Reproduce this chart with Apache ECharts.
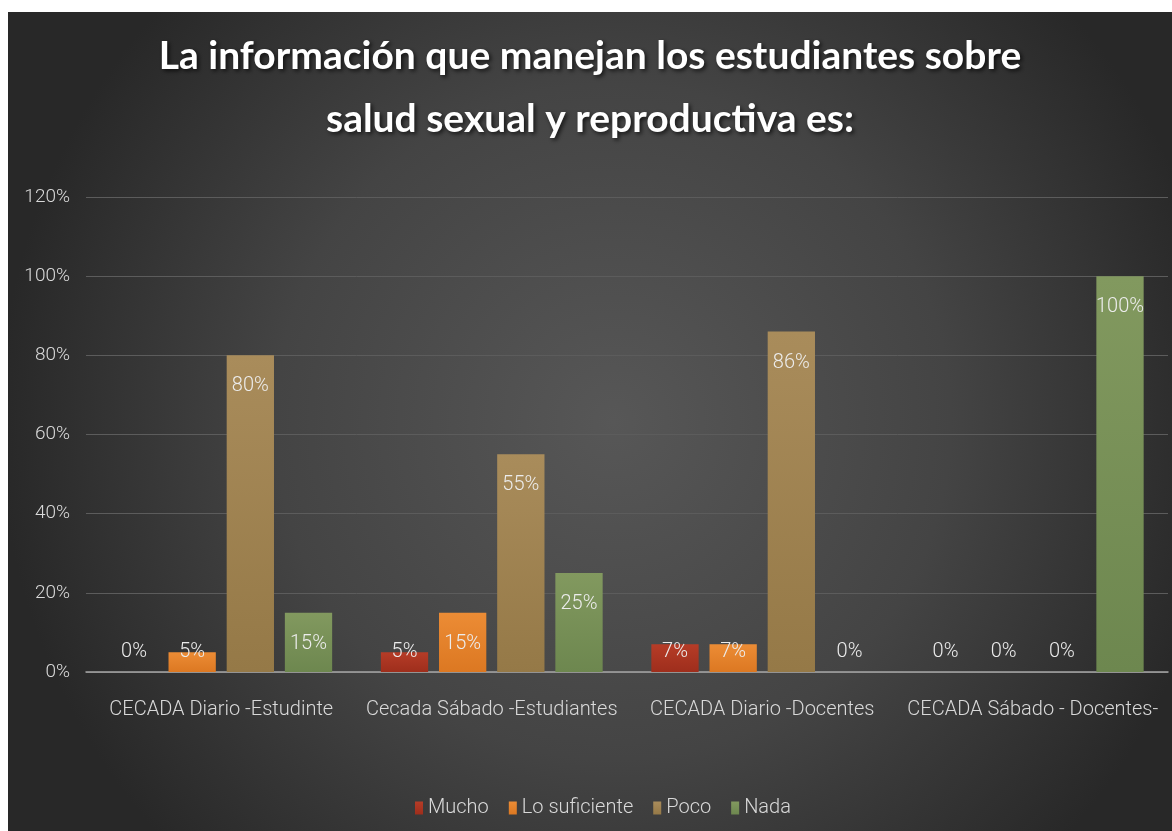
<!DOCTYPE html>
<html>
<head>
<meta charset="utf-8">
<script src="https://cdn.jsdelivr.net/npm/echarts@6/dist/echarts.min.js"></script>
<style>
  html, body { margin: 0; padding: 0; background: #fff; }
  #main { position: absolute; left: 8px; top: 12px; width: 1164px; height: 819px; }
</style>
</head>
<body>
<div id="main"></div>
<script>
const categories = ['CECADA Diario -Estudinte', 'Cecada Sábado -Estudiantes', 'CECADA Diario -Docentes', 'CECADA Sábado - Docentes-']
const seriesNames = ['Mucho', 'Lo suficiente', 'Poco', 'Nada']
const mucho = [0, 5, 7, 0]
const loSuficiente = [5, 15, 7, 0]
const poco = [80, 55, 86, 0]
const nada = [15, 25, 0, 100]
const yTicks = [0, 20, 40, 60, 80, 100, 120]

const thin = 'Roboto, sans-serif'
const barColors = [
  ['#b63c27', '#9e2e1c'],
  ['#ec8c35', '#dc7822'],
  ['#a98c5b', '#957947'],
  ['#82995f', '#6d874f']
]

function grad (c) {
  return new echarts.graphic.LinearGradient(0, 0, 0, 1, [
    { offset: 0, color: c[0] },
    { offset: 1, color: c[1] }
  ])
}

// Excel style "inside end" label, but never below ~20px above the axis
function labelPlace (params) {
  const r = params.rect
  const bottom = r.y + r.height
  let y = r.y + 31
  if (y > bottom - 20) y = bottom - 20
  return { x: r.x + r.width / 2, y: y, align: 'center', verticalAlign: 'middle' }
}

const values = [mucho, loSuficiente, poco, nada]

const option = {
  backgroundColor: {
    type: 'radial', x: 0.52, y: 0.5, r: 0.75,
    colorStops: [
      { offset: 0, color: '#575757' },
      { offset: 0.55, color: '#444444' },
      { offset: 1, color: '#282828' }
    ]
  },
  title: {
    text: 'La información que manejan los estudiantes sobre\nsalud sexual y reproductiva es:',
    left: 'center',
    top: 8,
    textStyle: {
      color: '#ffffff',
      fontFamily: 'Lato, sans-serif',
      fontWeight: 'bold',
      fontSize: 39,
      lineHeight: 63,
      textShadowColor: 'rgba(0,0,0,0.7)',
      textShadowBlur: 4,
      textShadowOffsetX: 2,
      textShadowOffsetY: 2
    }
  },
  legend: {
    data: seriesNames,
    top: 781,
    left: 402,
    itemWidth: 8,
    itemHeight: 13,
    itemGap: 20,
    icon: 'rect',
    textStyle: { color: '#d9d9d9', fontFamily: thin, fontWeight: 300, fontSize: 20 }
  },
  grid: { left: 78, right: 4, top: 185, bottom: 159 },
  xAxis: {
    type: 'category',
    data: categories,
    axisTick: { show: false },
    axisLine: { lineStyle: { color: '#a6a6a6', width: 1.5 } },
    axisLabel: { color: '#d9d9d9', fontFamily: thin, fontWeight: 300, fontSize: 20, margin: 28, interval: 0 }
  },
  yAxis: {
    type: 'value',
    min: yTicks[0],
    max: yTicks[yTicks.length - 1],
    interval: 20,
    axisLine: { show: false },
    axisTick: { show: false },
    splitLine: { lineStyle: { color: '#5c5c5c', width: 1 } },
    axisLabel: { color: '#d9d9d9', fontFamily: thin, fontWeight: 300, fontSize: 19, margin: 16, formatter: '{value}%' }
  },
  series: seriesNames.map((name, i) => ({
    name: name,
    type: 'bar',
    data: values[i],
    barGap: '23%',
    barCategoryGap: '18%',
    itemStyle: { color: grad(barColors[i]) },
    label: {
      show: true,
      position: 'insideTop',
      formatter: '{c}%',
      color: '#ececec',
      fontFamily: thin,
      fontWeight: 300,
      fontSize: 20
    },
    labelLayout: labelPlace
  }))
}

echarts.init(document.getElementById('main')).setOption(option)
</script>
</body>
</html>
